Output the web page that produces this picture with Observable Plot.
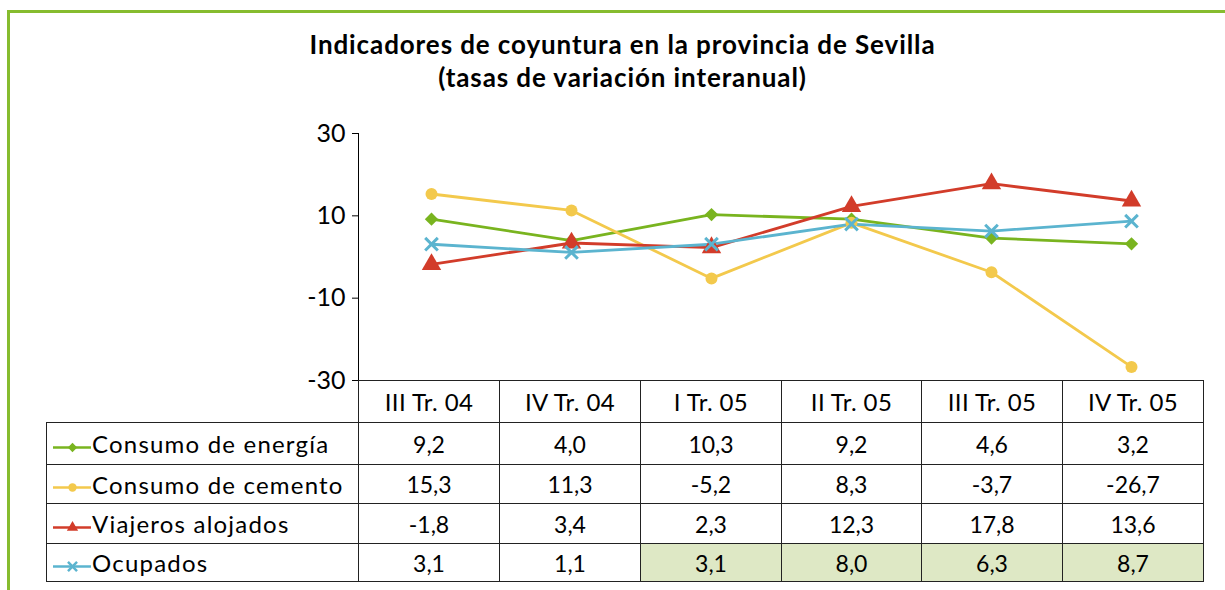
<!DOCTYPE html>
<html><head><meta charset="utf-8">
<script src="https://cdn.jsdelivr.net/npm/d3@7"></script>
<script src="https://cdn.jsdelivr.net/npm/@observablehq/plot@0.6"></script>
<style>
body{margin:0;width:1225px;height:590px;overflow:hidden;background:#fff;font-family:Lato,"Open Sans",sans-serif;position:relative;color:#000}
#frame{position:absolute;left:7px;top:10px;width:1300px;height:700px;border-left:3px solid #86bc2f;border-top:3px solid #86bc2f;box-sizing:border-box}
#title{position:absolute;left:10px;width:1225px;top:28px;text-align:center;font-weight:bold;font-size:26px;letter-spacing:0.9px;line-height:33px}
#chart{position:absolute;left:0;top:120px}
#tbl{position:absolute;left:46px;top:380px;border-collapse:collapse;table-layout:fixed;font-size:23px}
#tbl td{border:1px solid #222;text-align:center;padding:0;white-space:nowrap}
#tbl td.hd{font-size:24px;letter-spacing:0.4px}
#tbl td.lab{text-align:left;padding-left:6px;font-size:24px;letter-spacing:1.2px}
#tbl td.lab svg{vertical-align:middle;display:inline-block;margin-right:1px}
#tbl td.hl{background:#dee8c5}
</style></head>
<body>
<div id="frame"></div>
<div id="title">Indicadores de coyuntura en la provincia de Sevilla<br>(tasas de variación interanual)</div>
<div id="chart"></div>
<table id="tbl"></table>
<script>
const categories = ["III Tr. 04","IV Tr. 04","I Tr. 05","II Tr. 05","III Tr. 05","IV Tr. 05"];
const seriesNames = ["Consumo de energía","Consumo de cemento","Viajeros alojados","Ocupados"];
const energia  = [9.2, 4.0, 10.3, 9.2, 4.6, 3.2];
const cemento  = [15.3, 11.3, -5.2, 8.3, -3.7, -26.7];
const viajeros = [-1.8, 3.4, 2.3, 12.3, 17.8, 13.6];
const ocupados = [3.1, 1.1, 3.1, 8.0, 6.3, 8.7];
const yTicks = [30, 10, -10, -30];
const highlighted = [[3,2],[3,3],[3,4],[3,5]]; // [row, col] shaded cells

const seriesValues = [energia, cemento, viajeros, ocupados];
const colors = ["#79b41f", "#f3c94c", "#d23c2a", "#5bb4cf"];
const symbols = ["diamond2", "circle", "triangle", "times"];
const radii = [6, 6, 7.2, 5.8];

const rows = [];
seriesNames.forEach((s, i) => seriesValues[i].forEach((v, j) => rows.push({series: s, cat: categories[j], value: v})));

const marks = [];
seriesNames.forEach((s, i) => {
  const d = rows.filter(r => r.series === s);
  marks.push(Plot.line(d, {x: "cat", y: "value", stroke: colors[i], strokeWidth: 2.8}));
});
seriesNames.forEach((s, i) => {
  const d = rows.filter(r => r.series === s);
  if (symbols[i] === "times")
    marks.push(Plot.dot(d, {x: "cat", y: "value", symbol: symbols[i], r: radii[i], stroke: colors[i], strokeWidth: 3, fill: "none"}));
  else
    marks.push(Plot.dot(d, {x: "cat", y: "value", symbol: symbols[i], r: radii[i], fill: colors[i], stroke: "none"}));
});

const chart = Plot.plot({
  width: 1225, height: 280,
  marginLeft: 358, marginRight: 22, marginTop: 13, marginBottom: 20,
  style: {fontFamily: "Lato, 'Open Sans', sans-serif", fontSize: "25px", background: "transparent", overflow: "visible", color: "#000"},
  x: {type: "point", domain: categories, padding: 0.5, axis: null},
  y: {domain: [-30, 30], ticks: yTicks, tickSize: 6, tickPadding: 7, line: true, label: null, tickFormat: d => String(d)},
  marks
});
document.getElementById("chart").appendChild(chart);

// data table
const tbl = d3.select("#tbl");
const colW = [312, 141, 141, 141, 140, 141, 141];
const cg = tbl.append("colgroup");
colW.forEach(w => cg.append("col").style("width", w + "px"));
const hr = tbl.append("tr").style("height", "42px");
hr.append("td").style("border-top", "none").style("border-left", "none");
categories.forEach(c => hr.append("td").attr("class", "hd").text(c));
const rowH = [42, 39, 40, 38];
const fmt = v => v.toFixed(1).replace(".", ",");
seriesNames.forEach((s, i) => {
  const tr = tbl.append("tr").style("height", rowH[i] + "px");
  const lab = tr.append("td").attr("class", "lab");
  const sw = Plot.plot({
    width: 38, height: 20, margin: 0,
    x: {domain: [0, 1], axis: null}, y: {domain: [-1, 1], axis: null},
    style: {background: "transparent"},
    marks: [
      Plot.ruleY([0], {stroke: colors[i], strokeWidth: 2.5}),
      symbols[i] === "times"
        ? Plot.dot([0.5], {x: d => d, y: 0, symbol: symbols[i], r: 4.2, stroke: colors[i], strokeWidth: 2.5, fill: "none"})
        : Plot.dot([0.5], {x: d => d, y: 0, symbol: symbols[i], r: 4.2, fill: colors[i], stroke: "none"})
    ]
  });
  lab.node().appendChild(sw);
  lab.append("span").text(s);
  seriesValues[i].forEach((v, j) => {
    const td = tr.append("td").text(fmt(v));
    if (highlighted.some(([r, c]) => r === i && c === j)) td.attr("class", "hl");
  });
});
</script>
</body></html>
